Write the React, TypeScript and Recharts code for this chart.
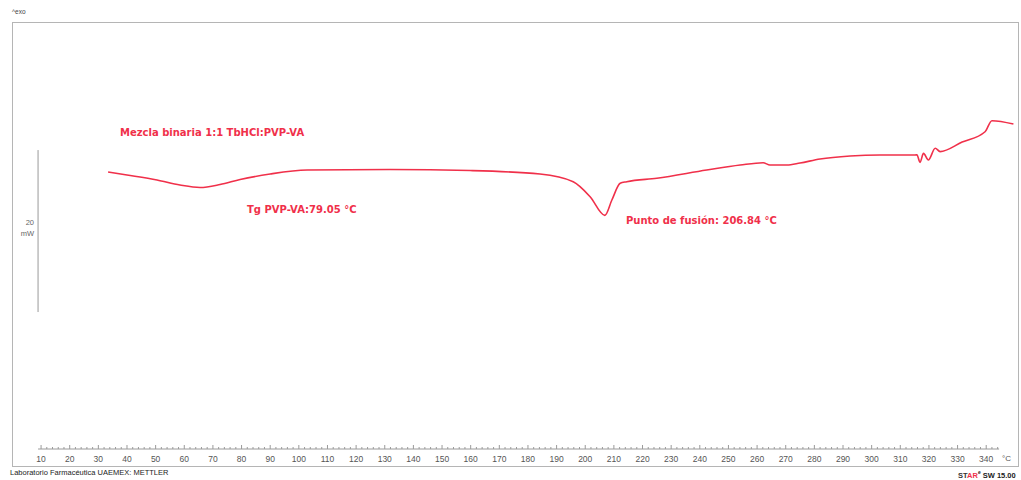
import React from 'react'
import { LineChart, Line, XAxis, YAxis, ReferenceLine } from 'recharts'

// DSC scan, temperature in °C vs heat flow in mW (exo up)
const temperature = [
  33.4, 40, 50.5, 58.5, 65.5, 72.5, 79.5, 90, 102.9, 131.9, 159.8, 184.2, 195.8,
  201.7, 206.84, 209.3, 212.2, 214.5, 225, 242.4, 254.1, 262.1, 264.5, 270.4,
  275, 282, 292.5, 302.9, 315.2, 315.8, 316.9, 318.1, 319.8, 322.2, 323.9,
  331.6, 339.6, 342.0, 349.5,
]
const heatFlow = [
  34.2, 33.83, 33.21, 32.59, 32.28, 32.65, 33.27, 33.95, 34.44, 34.51, 34.38,
  33.95, 33.0, 31.15, 28.85, 30.74, 32.8, 33.0, 33.42, 34.44, 35.06, 35.35,
  35.06, 35.06, 35.31, 35.8, 36.17, 36.3, 36.3, 36.33, 35.39, 36.5, 35.68,
  37.14, 36.72, 37.9, 39.17, 40.53, 40.12,
]
const tickLabels = [
  10, 20, 30, 40, 50, 60, 70, 80, 90, 100, 110, 120, 130, 140, 150, 160, 170,
  180, 190, 200, 210, 220, 230, 240, 250, 260, 270, 280, 290, 300, 310, 320,
  330, 340,
]
const minorTicks = Array.from({ length: 168 }, (_, i) => 10 + i * 2)

const data = temperature.map((t, i) => ({ t, mw: heatFlow[i] }))

const RED = '#f0304a'
const GRAY = '#9a9a9a'

function AxisTick(props: any) {
  const { x, y, payload } = props
  const major = tickLabels.includes(payload.value)
  return (
    <g>
      <line x1={x} x2={x} y1={y} y2={y - (major ? 4 : 2)} stroke={GRAY} strokeWidth={1} />
      {major && (
        <text x={x} y={y + 13} textAnchor="middle" fontSize={8.5} fill="#555" fontFamily="Liberation Sans, Arial, sans-serif">
          {payload.value}
        </text>
      )}
    </g>
  )
}

function ScaleLabel(props: any) {
  const { viewBox } = props
  const x = viewBox.x - 4
  const mid = viewBox.y + viewBox.height / 2
  return (
    <g fontSize={7.5} fill="#666" fontFamily="Liberation Sans, Arial, sans-serif" textAnchor="end">
      <text x={x} y={mid - 6}>20</text>
      <text x={x} y={mid + 5}>mW</text>
    </g>
  )
}

const note: React.CSSProperties = {
  position: 'absolute',
  color: RED,
  fontFamily: 'DejaVu Sans, Verdana, sans-serif',
  fontWeight: 'bold',
  fontSize: 10,
  lineHeight: '10px',
  whiteSpace: 'nowrap',
}

const small: React.CSSProperties = {
  position: 'absolute',
  fontFamily: 'Liberation Sans, Arial, sans-serif',
  fontSize: 7.5,
  lineHeight: '8px',
  whiteSpace: 'nowrap',
}

export default function App() {
  return (
    <div style={{ position: 'absolute', left: 0, top: 0, width: 1021, height: 480, background: '#fff', overflow: 'hidden' }}>
      {/* plot frame */}
      <div style={{ position: 'absolute', left: 12, top: 22, width: 1005, height: 443, border: '1px solid #b5b5b5' }} />
      <div style={{ ...small, left: 12, top: 8, color: '#444', fontSize: 6.5 }}>^exo</div>

      <LineChart
        width={1021}
        height={480}
        data={data}
        margin={{ top: 22, right: 3, bottom: 11, left: 13 }}
        style={{ position: 'absolute', left: 0, top: 0 }}
      >
        <XAxis
          dataKey="t"
          type="number"
          domain={[0.2, 351.1]}
          ticks={minorTicks}
          interval={0}
          axisLine={false}
          tickLine={false}
          tickSize={0}
          tickMargin={0}
          height={20}
          tick={<AxisTick />}
        />
        <YAxis type="number" domain={[0, 52.72]} hide />
        <ReferenceLine segment={[{ x: 8.95, y: 0 }, { x: 344.5, y: 0 }]} stroke={GRAY} strokeWidth={1} />
        <ReferenceLine
          segment={[{ x: 8.95, y: 16.91 }, { x: 8.95, y: 36.91 }]}
          stroke={GRAY}
          strokeWidth={1}
          label={<ScaleLabel />}
        />
        <Line
          type="monotone"
          dataKey="mw"
          stroke={RED}
          strokeWidth={1.6}
          dot={false}
          isAnimationActive={false}
        />
      </LineChart>

      <div style={{ ...small, left: 1002, top: 455, color: '#555', fontSize: 8 }}>°C</div>

      <div style={{ ...note, left: 120, top: 128 }}>Mezcla binaria 1:1 TbHCl:PVP-VA</div>
      <div style={{ ...note, left: 247, top: 205 }}>Tg PVP-VA:79.05 °C</div>
      <div style={{ ...note, left: 626, top: 216 }}>Punto de fusión: 206.84 °C</div>

      <div style={{ ...small, left: 10, top: 469, color: '#222' }}>Laboratorio Farmacéutica UAEMEX: METTLER</div>
      <div style={{ ...small, left: 958, top: 468, color: '#222', fontWeight: 'bold' }}>
        <span style={{ color: '#333' }}>ST</span>
        <span style={{ color: RED }}>AR</span>
        <sup style={{ fontSize: 5 }}>e</sup> SW 15.00
      </div>
    </div>
  )
}
